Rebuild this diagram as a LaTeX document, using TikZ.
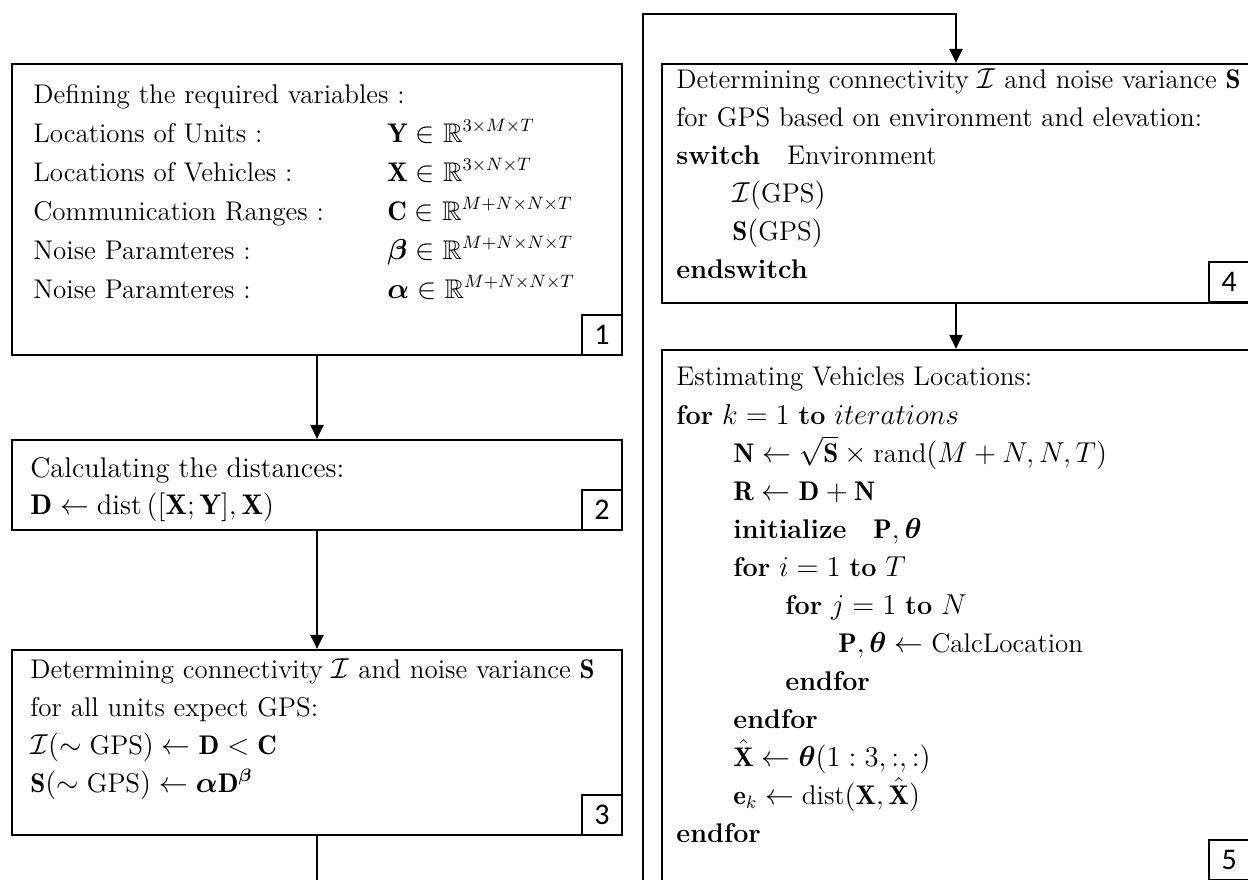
\documentclass[tikz,border=0pt]{standalone}
\usepackage{amsmath,amssymb,bm}
\usepackage{fontspec}
\newfontfamily\labelfont{Carlito}
\usetikzlibrary{arrows.meta,fit}

\tikzset{
  box/.style={draw, line width=1.1pt, inner sep=0pt},
  numbox/.style={draw, line width=1.1pt, inner sep=0pt, minimum size=20pt,
                 font=\labelfont\fontsize{15}{15}\selectfont},
  txt/.style={anchor=base west, inner sep=0pt, font=\fontsize{13.5}{15}\selectfont},
  bigtxt/.style={txt, font=\fontsize{14.2}{16}\selectfont},
  link/.style={line width=1.1pt},
  arr/.style={line width=1.1pt, -{Triangle[length=7pt,width=6.5pt]}}
}

\begin{document}
\begin{tikzpicture}[x=0.5pt,y=-0.5pt]
\clip (0,0) rectangle (1248,879);
\fill[white] (0,0) rectangle (1248,879);

% ---------- left column ----------
\node[box, fit={(12,64) (622,355)}] (b1) {};
\node[numbox, anchor=south east] (n1) at (b1.south east) {1};
\node[txt] (t10) at (33,103) {Defining the required variables :};
\node[txt] (t11) at (33,142) {Locations of Units :};
\node[txt] (t12) at (33,181) {Locations of Vehicles :};
\node[txt] (t13) at (33,220) {Communication Ranges :};
\node[txt] (t14) at (33,259) {Noise Paramteres :};
\node[txt] (t15) at (33,298) {Noise Paramteres :};
\node[txt] (m11) at (387,142) {$\mathbf{Y}\in\mathbb{R}^{3\times M\times T}$};
\node[txt] (m12) at (387,181) {$\mathbf{X}\in\mathbb{R}^{3\times N\times T}$};
\node[txt] (m13) at (387,220) {$\mathbf{C}\in\mathbb{R}^{M+N\times N\times T}$};
\node[txt] (m14) at (387,259) {$\bm{\beta}\in\mathbb{R}^{M+N\times N\times T}$};
\node[txt] (m15) at (387,298) {$\bm{\alpha}\in\mathbb{R}^{M+N\times N\times T}$};

\node[box, fit={(12,440) (622,530)}] (b2) {};
\node[numbox, anchor=south east] (n2) at (b2.south east) {2};
\node[bigtxt] (t20) at (30,477) {Calculating the distances:};
\node[bigtxt] (t21) at (30,514) {$\mathbf{D}\leftarrow\mathrm{dist}\left([\mathbf{X};\mathbf{Y}],\mathbf{X}\right)$};

\node[box, fit={(12,650) (622,835)}] (b3) {};
\node[numbox, anchor=south east] (n3) at (b3.south east) {3};
\node[txt] (t30) at (30,678) {Determining connectivity $\mathcal{I}$ and noise variance $\mathbf{S}$};
\node[txt] (t31) at (30,716) {for all units expect GPS:};
\node[txt] (t32) at (30,754) {$\mathcal{I}(\sim\mathrm{GPS})\leftarrow\mathbf{D}<\mathbf{C}$};
\node[txt] (t33) at (30,792) {$\mathbf{S}(\sim\mathrm{GPS})\leftarrow\bm{\alpha}\mathbf{D}^{\bm{\beta}}$};

% ---------- right column ----------
\node[box, fit={(662,64) (1250,303)}] (b4) {};
\node[numbox, anchor=south west] (n4) at (1208,303) {4};
\node[txt] (t40) at (676,88) {Determining connectivity $\mathcal{I}$ and noise variance $\mathbf{S}$};
\node[txt] (t41) at (676,126) {for GPS based on environment and elevation:};
\node[txt] (t42) at (676,164) {\textbf{switch}\quad Environment};
\node[txt] (t43) at (732,202) {$\mathcal{I}(\mathrm{GPS})$};
\node[txt] (t44) at (732,240) {$\mathbf{S}(\mathrm{GPS})$};
\node[txt] (t45) at (676,278) {\textbf{endswitch}};

\node[box, fit={(662,350) (1250,910)}] (b5) {};
\node[numbox, anchor=north west] (n5) at (1208,839) {5};
\node[txt] (t50) at (676,385) {Estimating Vehicles Locations:};
\node[txt] (t51) at (676,424) {\textbf{for} $k=1$ \textbf{to} $iterations$};
\node[txt] (t52) at (733,462) {$\mathbf{N}\leftarrow\sqrt{\mathbf{S}}\times\mathrm{rand}(M+N,N,T)$};
\node[txt] (t53) at (733,500) {$\mathbf{R}\leftarrow\mathbf{D}+\mathbf{N}$};
\node[txt] (t54) at (733,538) {\textbf{initialize}\quad$\mathbf{P},\bm{\theta}$};
\node[txt] (t55) at (733,576) {\textbf{for} $i=1$ \textbf{to} $T$};
\node[txt] (t56) at (785,614) {\textbf{for} $j=1$ \textbf{to} $N$};
\node[txt] (t57) at (838,652) {$\mathbf{P},\bm{\theta}\leftarrow\mathrm{CalcLocation}$};
\node[txt] (t58) at (785,690) {\textbf{endfor}};
\node[txt] (t59) at (733,728) {\textbf{endfor}};
\node[txt] (t5a) at (733,766) {$\hat{\mathbf{X}}\leftarrow\bm{\theta}(1:3,:,:)$};
\node[txt] (t5b) at (733,804) {$\mathbf{e}_k\leftarrow\mathrm{dist}(\mathbf{X},\hat{\mathbf{X}})$};
\node[txt] (t5c) at (676,842) {\textbf{endfor}};

% ---------- connectors ----------
\coordinate (out3) at (317,900);
\coordinate (loopbot) at (643,900);
\coordinate (looptop) at (643,14);
\draw[arr] (b1.south) -- (b2.north);
\draw[arr] (b2.south) -- (b3.north);
\draw[link] (b3.south) -- (out3);
\draw[arr] (loopbot) -- (looptop) -| (b4.north);
\draw[arr] (b4.south) -- (b5.north);
\end{tikzpicture}
\end{document}
